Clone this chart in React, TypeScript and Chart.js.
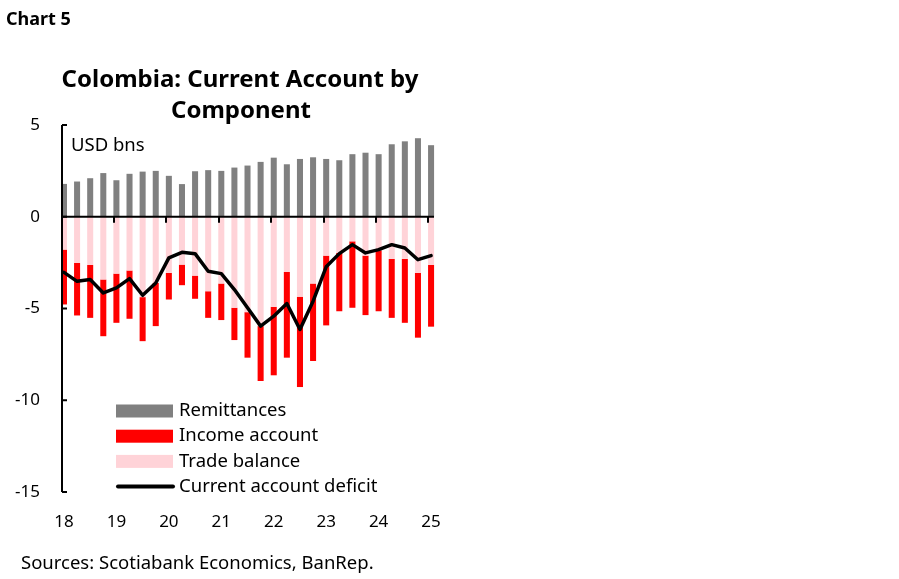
import { useEffect, useRef } from "react";
import { Chart, registerables } from "chart.js";

Chart.register(...registerables);

// Quarterly data 2018Q1 .. 2025Q1 (USD bns)
const quarters = [
  "2018Q1", "2018Q2", "2018Q3", "2018Q4",
  "2019Q1", "2019Q2", "2019Q3", "2019Q4",
  "2020Q1", "2020Q2", "2020Q3", "2020Q4",
  "2021Q1", "2021Q2", "2021Q3", "2021Q4",
  "2022Q1", "2022Q2", "2022Q3", "2022Q4",
  "2023Q1", "2023Q2", "2023Q3", "2023Q4",
  "2024Q1", "2024Q2", "2024Q3", "2024Q4",
  "2025Q1",
];
const yearTickLabels = ["18", "19", "20", "21", "22", "23", "24", "25"];
const yTickValues = [5, 0, -5, -10, -15];

const remittances = [
  1.79, 1.92, 2.1, 2.38, 1.99, 2.34, 2.46, 2.5, 2.23, 1.78, 2.48, 2.54, 2.5, 2.68,
  2.79, 2.99, 3.22, 2.86, 3.15, 3.24, 3.15, 3.08, 3.41, 3.49, 3.41, 3.95, 4.11, 4.28, 3.9,
];
const tradeBalance = [
  -1.79, -2.52, -2.63, -3.42, -3.1, -2.93, -4.38, -3.61, -3.06, -2.61, -3.21, -4.06, -3.64, -4.96,
  -5.2, -5.96, -4.91, -3.01, -4.36, -3.64, -2.12, -1.97, -1.34, -2.12, -1.83, -2.3, -2.3, -3.06, -2.63,
];
const incomeAccount = [
  -2.99, -2.86, -2.88, -3.09, -2.68, -2.63, -2.4, -2.35, -1.45, -1.12, -1.26, -1.45, -1.99, -1.76,
  -2.48, -2.99, -3.73, -4.67, -4.92, -4.22, -3.8, -3.18, -3.62, -3.24, -3.32, -3.21, -3.48, -3.53, -3.36,
];
const currentAccount = [
  -3.03, -3.52, -3.42, -4.15, -3.88, -3.37, -4.28, -3.61, -2.24, -1.94, -2.01, -2.97, -3.1, -3.97,
  -4.96, -5.96, -5.42, -4.73, -6.14, -4.6, -2.73, -2.01, -1.52, -1.97, -1.79, -1.52, -1.7, -2.34, -2.12,
];

const FONT = "'Noto Sans', sans-serif";
const GRAY = "#808080";
const RED = "#ff0000";
const PINK = "#ffd3d8";

const toPoints = (arr: number[]) => arr.map((v, i) => ({ x: i, y: v }));

const decorPlugin = {
  id: "decor",
  afterDatasetsDraw(chart: any) {
    const { ctx, chartArea, scales } = chart;
    const xs = scales.x;
    const ys = scales.y;
    ctx.save();
    ctx.strokeStyle = "#000";
    ctx.lineWidth = 2;
    // y axis line
    ctx.beginPath();
    ctx.moveTo(chartArea.left, ys.getPixelForValue(5));
    ctx.lineTo(chartArea.left, ys.getPixelForValue(-15));
    ctx.stroke();
    // y tick marks (inside)
    yTickValues.forEach((v) => {
      const y = ys.getPixelForValue(v);
      ctx.beginPath();
      ctx.moveTo(chartArea.left, y);
      ctx.lineTo(chartArea.left + 5, y);
      ctx.stroke();
    });
    // zero line
    const y0 = ys.getPixelForValue(0);
    ctx.beginPath();
    ctx.moveTo(chartArea.left, y0);
    ctx.lineTo(chartArea.right - 1, y0);
    ctx.stroke();
    // x tick marks (downward from zero line)
    yearTickLabels.forEach((_, k) => {
      if (k === 0) return;
      const x = Math.round(xs.getPixelForValue(k * 4 - 0.2));
      ctx.beginPath();
      ctx.moveTo(x, y0);
      ctx.lineTo(x, y0 + 6);
      ctx.stroke();
    });
    ctx.restore();
  },
  afterDraw(chart: any) {
    const { ctx } = chart;
    ctx.save();
    ctx.fillStyle = "#000";
    ctx.textBaseline = "alphabetic";
    // header
    ctx.font = `bold 18px ${FONT}`;
    ctx.textAlign = "left";
    ctx.fillText("Chart 5", 6, 25);
    // title
    ctx.font = `bold 24px ${FONT}`;
    ctx.textAlign = "center";
    ctx.fillText("Colombia: Current Account by", 240, 87);
    ctx.fillText("Component", 241, 118);
    // unit label
    ctx.font = `18.5px ${FONT}`;
    ctx.textAlign = "left";
    ctx.fillText("USD bns", 71, 151);
    // sources
    ctx.fillText("Sources: Scotiabank Economics, BanRep.", 21, 569);

    // legend
    const items = [
      { label: "Remittances", type: "box", color: GRAY },
      { label: "Income account", type: "box", color: RED },
      { label: "Trade balance", type: "box", color: PINK },
      { label: "Current account deficit", type: "line", color: "#000" },
    ];
    const x0 = 116;
    const boxW = 57;
    items.forEach((it, i) => {
      const cy = 411 + i * 25.2;
      if (it.type === "box") {
        ctx.fillStyle = it.color;
        ctx.fillRect(x0, cy - 6.5, boxW, 13);
      } else {
        ctx.strokeStyle = it.color;
        ctx.lineWidth = 4;
        ctx.lineCap = "round";
        ctx.beginPath();
        ctx.moveTo(x0 + 2, cy);
        ctx.lineTo(x0 + boxW, cy);
        ctx.stroke();
      }
      ctx.fillStyle = "#000";
      ctx.font = `18.5px ${FONT}`;
      ctx.textBaseline = "middle";
      ctx.textAlign = "left";
      ctx.fillText(it.label, 179, cy);
    });
    ctx.restore();
  },
};

export default function App() {
  const canvasRef = useRef<HTMLCanvasElement | null>(null);

  useEffect(() => {
    if (!canvasRef.current) return;
    const chart = new Chart(canvasRef.current, {
      type: "bar",
      data: {
        labels: quarters,
        datasets: [
          {
            type: "line",
            label: "Current account deficit",
            data: toPoints(currentAccount),
            borderColor: "#000",
            borderWidth: 3.5,
            pointRadius: 0,
            tension: 0,
            stack: "ca",
            order: 0,
            borderJoinStyle: "round",
            borderCapStyle: "round",
          } as any,
          {
            label: "Remittances",
            data: toPoints(remittances),
            backgroundColor: GRAY,
            stack: "bars",
            order: 1,
          },
          {
            label: "Trade balance",
            data: toPoints(tradeBalance),
            backgroundColor: PINK,
            stack: "bars",
            order: 1,
          },
          {
            label: "Income account",
            data: toPoints(incomeAccount),
            backgroundColor: RED,
            stack: "bars",
            order: 1,
          },
        ],
      },
      options: {
        responsive: false,
        animation: false,
        events: [],
        datasets: {
          bar: { barPercentage: 0.46, categoryPercentage: 1 },
        },
        layout: { padding: { top: 125, right: 464, left: 0, bottom: 0 } },
        plugins: {
          legend: { display: false },
          title: { display: false },
          tooltip: { enabled: false },
        },
        scales: {
          x: {
            type: "linear",
            min: -0.15,
            max: 28.3,
            offset: false,
            stacked: true,
            grid: { display: false },
            border: { display: false },
            afterBuildTicks: (scale: any) => {
              scale.ticks = yearTickLabels.map((_, k) => ({ value: k * 4 }));
            },
            afterFit: (scale: any) => {
              scale.height = 87;
            },
            ticks: {
              callback: (_v: any, i: number) => yearTickLabels[i],
              font: { family: FONT, size: 17 },
              color: "#000",
              padding: 12,
              maxRotation: 0,
              autoSkip: false,
            },
          },
          y: {
            min: -15,
            max: 5,
            stacked: true,
            grid: { display: false },
            border: { display: false },
            afterBuildTicks: (scale: any) => {
              scale.ticks = yTickValues.map((v) => ({ value: v }));
            },
            afterFit: (scale: any) => {
              scale.width = 62;
            },
            ticks: {
              callback: (v: any) => String(v),
              font: { family: FONT, size: 17 },
              color: "#000",
              padding: 14,
            },
          },
        },
      },
      plugins: [decorPlugin],
    } as any);
    return () => chart.destroy();
  }, []);

  return (
    <div style={{ position: "fixed", left: 0, top: 0, width: 899, height: 579, background: "#fff" }}>
      <canvas ref={canvasRef} width={899} height={579} style={{ display: "block" }} />
    </div>
  );
}
